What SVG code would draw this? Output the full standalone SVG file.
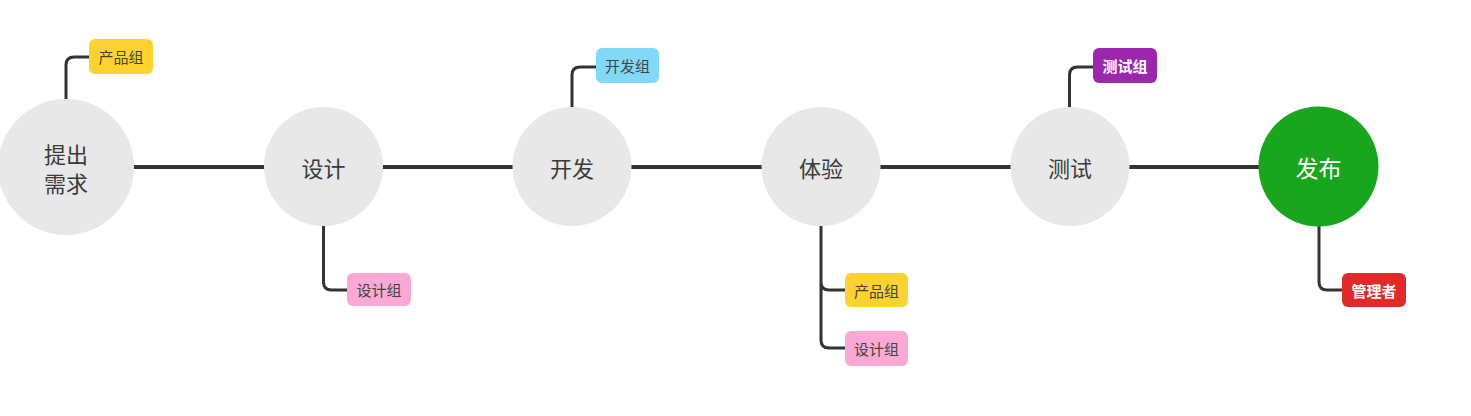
<svg xmlns="http://www.w3.org/2000/svg" width="1471" height="416" viewBox="0 0 1471 416">
<style>
.bg{fill:#ffffff}
.line{stroke:#333333;stroke-width:4;fill:none;stroke-linecap:butt}
.branch{stroke:#333333;stroke-width:3;fill:none}
.circ{fill:#e8e8e8}
.green{fill:#1aa51f}
.lbl{font-family:"Noto Sans CJK SC","Liberation Sans",sans-serif;font-size:22px;fill:#3a3a3a;text-anchor:middle;dominant-baseline:central}
.lblw{fill:#ffffff;font-size:23px}
.tag{font-family:"Noto Sans CJK SC","Liberation Sans",sans-serif;font-size:15px;fill:#444444;text-anchor:middle;dominant-baseline:central}
.tagw{fill:#ffffff;font-weight:bold}
.yellow{fill:#fbd22f}
.pink{fill:#f9a9d3}
.blue{fill:#83d8f7}
.purple{fill:#9b27af}
.red{fill:#e02a2a}
</style>
<rect class="bg" x="0" y="0" width="1471" height="416"/>
<g id="connectors">
<line class="line" x1="120" y1="167" x2="1270" y2="167"/>
<path class="branch" d="M66 100 V65 Q66 57 74 57 H90"/>
<path class="branch" d="M323.5 220 V282 Q323.5 290 331.5 290 H348"/>
<path class="branch" d="M572 110 V75 Q572 67 580 67 H597"/>
<path class="branch" d="M821 220 V282 Q821 290 829 290 H846 M821 282 V340 Q821 348 829 348 H846"/>
<path class="branch" d="M1069.5 110 V75 Q1069.5 67 1077.5 67 H1094"/>
<path class="branch" d="M1319 220 V282 Q1319 290 1327 290 H1343"/>
</g>
<g id="node-tichu">
<circle class="circ" cx="66" cy="167" r="68"/>
<text class="lbl" x="66" y="153">提出</text>
<text class="lbl" x="66" y="182">需求</text>
</g>
<g id="tag-chanpin1">
<rect class="yellow" x="89" y="39" width="64" height="35" rx="6"/>
<text class="tag" x="121" y="56.5">产品组</text>
</g>
<g id="node-sheji">
<circle class="circ" cx="323.5" cy="166.5" r="59.5"/>
<text class="lbl" x="323.5" y="166.5">设计</text>
</g>
<g id="tag-sheji1">
<rect class="pink" x="347" y="273" width="64" height="33" rx="6"/>
<text class="tag" x="379" y="289.5">设计组</text>
</g>
<g id="node-kaifa">
<circle class="circ" cx="572" cy="166.5" r="59.5"/>
<text class="lbl" x="572" y="166.5">开发</text>
</g>
<g id="tag-kaifa">
<rect class="blue" x="596" y="48" width="63" height="35" rx="6"/>
<text class="tag" x="627.5" y="65.5">开发组</text>
</g>
<g id="node-tiyan">
<circle class="circ" cx="821" cy="166.5" r="59.5"/>
<text class="lbl" x="821" y="166.5">体验</text>
</g>
<g id="tag-chanpin2">
<rect class="yellow" x="845" y="273" width="63" height="34" rx="6"/>
<text class="tag" x="876.5" y="290">产品组</text>
</g>
<g id="tag-sheji2">
<rect class="pink" x="845" y="331" width="63" height="35" rx="6"/>
<text class="tag" x="876.5" y="348.5">设计组</text>
</g>
<g id="node-ceshi">
<circle class="circ" cx="1070" cy="166.5" r="59.5"/>
<text class="lbl" x="1070" y="166.5">测试</text>
</g>
<g id="tag-ceshi">
<rect class="purple" x="1093" y="48" width="64" height="35" rx="6"/>
<text class="tag tagw" x="1125" y="65.5">测试组</text>
</g>
<g id="node-fabu">
<circle class="green" cx="1318.5" cy="166.5" r="60"/>
<text class="lbl lblw" x="1318.5" y="166.5">发布</text>
</g>
<g id="tag-guanli">
<rect class="red" x="1342" y="273" width="64" height="34" rx="6"/>
<text class="tag tagw" x="1374" y="290">管理者</text>
</g>
</svg>
